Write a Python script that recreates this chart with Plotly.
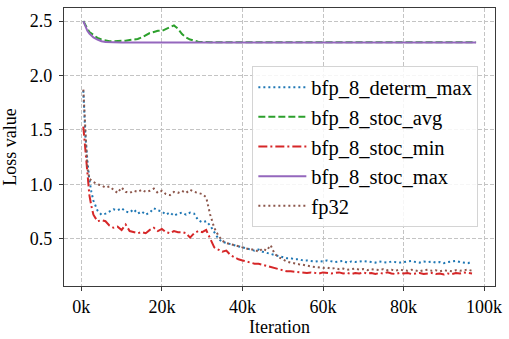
import plotly.graph_objects as go

# iterations for the noisy (lower) series
iters_low = [500, 1000, 1500, 2000, 2500] + list(range(3000, 98000, 1000))

determ_max = [1.86, 1.45, 1.22, 1.04, 0.93,
    0.85, 0.76, 0.72, 0.73, 0.75, 0.77, 0.76, 0.78, 0.75, 0.74,
    0.77, 0.73, 0.75, 0.72, 0.74, 0.78, 0.76, 0.75, 0.72, 0.74,
    0.71, 0.73, 0.74, 0.72, 0.74, 0.73, 0.67, 0.65, 0.66, 0.62,
    0.56, 0.50, 0.47, 0.46, 0.45, 0.44, 0.43, 0.42, 0.41, 0.40,
    0.39, 0.40, 0.38, 0.37, 0.36, 0.35, 0.34, 0.33, 0.32, 0.32,
    0.31, 0.31, 0.30, 0.30, 0.295, 0.29, 0.295, 0.29, 0.30, 0.29,
    0.285, 0.29, 0.295, 0.28, 0.29, 0.285, 0.29, 0.295, 0.29, 0.285,
    0.28, 0.29, 0.285, 0.28, 0.29, 0.285, 0.28, 0.285, 0.29, 0.295,
    0.285, 0.28, 0.29, 0.285, 0.29, 0.28, 0.285, 0.275, 0.285, 0.29,
    0.295, 0.285, 0.28, 0.275, 0.29]

stoc_min = [1.53, 1.30, 1.05, 0.90, 0.80,
    0.72, 0.66, 0.67, 0.66, 0.62, 0.60, 0.61, 0.58, 0.63, 0.57,
    0.56, 0.55, 0.56, 0.55, 0.58, 0.60, 0.57, 0.59, 0.56, 0.55,
    0.57, 0.56, 0.56, 0.55, 0.51, 0.55, 0.57, 0.56, 0.58, 0.50,
    0.42, 0.40, 0.38, 0.39, 0.35, 0.33, 0.31, 0.30, 0.29, 0.28,
    0.27, 0.27, 0.26, 0.25, 0.24, 0.23, 0.22, 0.21, 0.20, 0.20,
    0.195, 0.19, 0.19, 0.185, 0.19, 0.185, 0.18, 0.19, 0.185, 0.18,
    0.185, 0.19, 0.18, 0.185, 0.175, 0.185, 0.18, 0.19, 0.18, 0.185,
    0.175, 0.185, 0.18, 0.19, 0.18, 0.175, 0.185, 0.18, 0.185, 0.175,
    0.18, 0.185, 0.175, 0.18, 0.185, 0.175, 0.18, 0.17, 0.18, 0.175,
    0.185, 0.18, 0.19, 0.185, 0.18]

fp32 = [1.87, 1.50, 1.15, 1.05, 1.03,
    1.02, 1.00, 0.99, 0.97, 0.98, 0.95, 0.92, 0.97, 0.93, 0.92,
    0.94, 0.93, 0.95, 0.93, 0.94, 0.96, 0.92, 0.94, 0.91, 0.90,
    0.93, 0.92, 0.94, 0.92, 0.95, 0.93, 0.92, 0.91, 0.88, 0.72,
    0.60, 0.53, 0.48, 0.46, 0.45, 0.44, 0.43, 0.42, 0.41, 0.40,
    0.40, 0.38, 0.41, 0.39, 0.44, 0.36, 0.33, 0.31, 0.29, 0.28,
    0.27, 0.265, 0.26, 0.25, 0.245, 0.24, 0.235, 0.23, 0.235, 0.225,
    0.23, 0.22, 0.225, 0.215, 0.22, 0.225, 0.215, 0.22, 0.21, 0.22,
    0.215, 0.21, 0.22, 0.21, 0.215, 0.205, 0.215, 0.21, 0.205, 0.215,
    0.21, 0.20, 0.21, 0.215, 0.205, 0.21, 0.20, 0.21, 0.205, 0.20,
    0.21, 0.205, 0.21, 0.215, 0.205]

iters_avg = [500, 1000, 1500, 2000, 3000, 4000, 5000, 6000, 7000, 8000, 9000,
             10000, 11000, 12000, 13000, 14000, 15000, 16000, 17000, 18000,
             19000, 20000, 21000, 22000, 23000, 24000, 25000, 26000, 27000,
             28000, 29000, 30000, 32000, 98000]
stoc_avg = [2.50, 2.46, 2.43, 2.40, 2.37, 2.345, 2.33, 2.32, 2.315, 2.315, 2.315,
            2.32, 2.32, 2.325, 2.33, 2.335, 2.35, 2.37, 2.39, 2.40,
            2.41, 2.41, 2.425, 2.44, 2.46, 2.43, 2.38, 2.35, 2.33,
            2.32, 2.31, 2.308, 2.305, 2.305]

iters_max = [500, 1000, 1500, 2000, 3000, 4000, 5000, 6000, 7000, 8000, 10000, 98000]
stoc_max = [2.50, 2.45, 2.41, 2.385, 2.35, 2.33, 2.315, 2.308, 2.305, 2.303, 2.302, 2.302]

x_ticks = [0, 20000, 40000, 60000, 80000, 100000]
x_labels = ["0k", "20k", "40k", "60k", "80k", "100k"]
y_ticks = [0.5, 1.0, 1.5, 2.0, 2.5]
y_labels = ["0.5", "1.0", "1.5", "2.0", "2.5"]

FONT = "Liberation Serif"

fig = go.Figure()
series = [
    ("bfp_8_determ_max", iters_low, determ_max, "#1f77b4", "2px,3px"),
    ("bfp_8_stoc_avg", iters_avg, stoc_avg, "#2ca02c", "7px,3px"),
    ("bfp_8_stoc_min", iters_low, stoc_min, "#d62728", "9px,3px,2px,3px"),
    ("bfp_8_stoc_max", iters_max, stoc_max, "#9467bd", "solid"),
    ("fp32", iters_low, fp32, "#8c564b", "2px,3px"),
]
for name, xs, ys, col, dash in series:
    fig.add_trace(go.Scatter(x=xs, y=ys, mode="lines", name=name, legendgroup=name,
                             line=dict(color=col, width=2, dash=dash)))

axis_common = dict(showline=True, mirror=True, linecolor="#3a3a3a", linewidth=1.3,
                   ticks="outside", ticklen=4, tickcolor="#3a3a3a", tickwidth=1,
                   showgrid=True, gridcolor="#c4c4c4", griddash="4px,2px", gridwidth=1,
                   zeroline=False, tickfont=dict(family=FONT, size=18, color="black"))

fig.update_layout(
    width=509, height=339,
    margin=dict(l=64, r=12, t=7, b=52),
    plot_bgcolor="white", paper_bgcolor="white",
    font=dict(family=FONT, size=18, color="black"),
    xaxis=dict(range=[-4300, 102700], tickvals=x_ticks, ticktext=x_labels,
               title=dict(text="Iteration", font=dict(family=FONT, size=18), standoff=3),
               **axis_common),
    yaxis=dict(range=[0.065, 2.62], tickvals=y_ticks, ticktext=y_labels,
               ticklabelstandoff=3,
               title=dict(text="Loss value", font=dict(family=FONT, size=18), standoff=9),
               **axis_common),
    legend=dict(x=0.437, y=0.79, xanchor="left", yanchor="top",
                bgcolor="rgba(255,255,255,0.85)", bordercolor="#d4d4d4", borderwidth=1,
                font=dict(family=FONT, size=20.5), tracegroupgap=0, itemwidth=48),
    showlegend=True,
)

fig.write_html("out.html")
